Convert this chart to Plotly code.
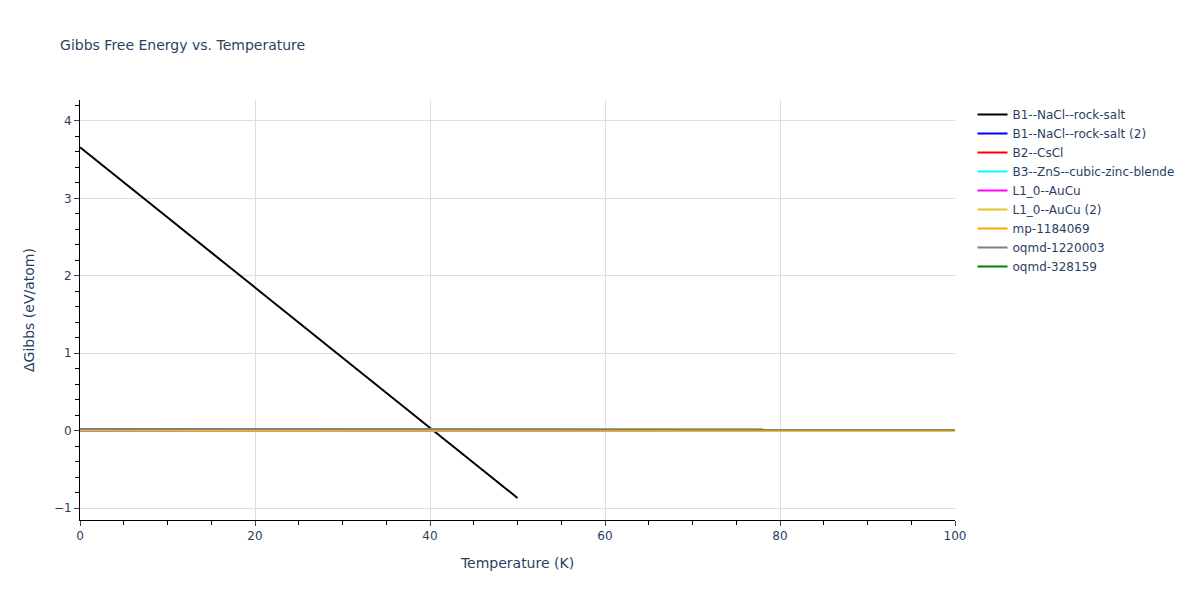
import plotly.graph_objects as go

# temperature grids (K)
temp_short = [0, 10, 20, 30, 40, 50]
temp_long = [0, 20, 40, 60, 80, 100]

# Gibbs free energy differences (eV/atom)
g_b1_rocksalt = [3.66, 2.754, 1.848, 0.942, 0.036, -0.87]
g_b1_rocksalt_2 = [0.0, 0.0, -0.001, -0.002, -0.003, -0.004]
g_b2_cscl = [0.0, 0.0, -0.001, -0.002, -0.003, -0.004]
g_b3_zns = [0.0, 0.0, -0.001, -0.002, -0.003, -0.004]
g_l10_aucu = [0.0, 0.0, -0.001, -0.002, -0.003, -0.004]
g_l10_aucu_2 = [0.0, -0.001, -0.002, -0.003, -0.004, -0.005]
g_mp_1184069 = [0.022, 0.02, 0.018, 0.016, 0.014, 0.013]
g_oqmd_1220003 = [0.022, 0.02, 0.018, 0.016, 0.014, 0.013]
g_oqmd_328159 = [0.0, -0.001, -0.002, -0.003, -0.004, -0.005]

series = [
    ("B1--NaCl--rock-salt", temp_short, g_b1_rocksalt, "black"),
    ("B1--NaCl--rock-salt (2)", temp_long, g_b1_rocksalt_2, "blue"),
    ("B2--CsCl", temp_long, g_b2_cscl, "red"),
    ("B3--ZnS--cubic-zinc-blende", temp_long, g_b3_zns, "cyan"),
    ("L1_0--AuCu", temp_long, g_l10_aucu, "magenta"),
    ("L1_0--AuCu (2)", temp_long, g_l10_aucu_2, "#E6C229"),
    ("mp-1184069", temp_long, g_mp_1184069, "orange"),
    ("oqmd-1220003", temp_long, g_oqmd_1220003, "grey"),
    ("oqmd-328159", temp_long, g_oqmd_328159, "green"),
]

fig = go.Figure()
# green one sits underneath the others, keep it last in the legend
draw_order = [8, 0, 1, 2, 3, 4, 5, 6, 7]
for i in draw_order:
    name, xs, ys, col = series[i]
    fig.add_trace(go.Scatter(x=xs, y=ys, mode="lines", name=name,
                             legendrank=1000 + i,
                             line=dict(color=col, width=2)))

# page has an 8px body margin, so margins are trimmed to line up
fig.update_layout(
    template="plotly_white",
    font=dict(family="DejaVu Sans, Verdana, sans-serif", size=12),
    title=dict(text="Gibbs Free Energy vs. Temperature", font=dict(size=14),
               x=0.044, y=0.937, yanchor="middle"),
    margin=dict(l=72, t=92, b=72, r=72),
)
axis_style = dict(
    showline=True, linecolor="black", ticks="outside",
    gridcolor="#dddddd", zeroline=False,
    minor=dict(ticks="outside", ticklen=4, tickcolor="black"),
)
fig.update_xaxes(title="Temperature (K)", range=[0, 100], **axis_style)
fig.update_yaxes(title="ΔGibbs (eV/atom)", range=[-1.155, 4.27], **axis_style)

fig.write_html("out.html")
